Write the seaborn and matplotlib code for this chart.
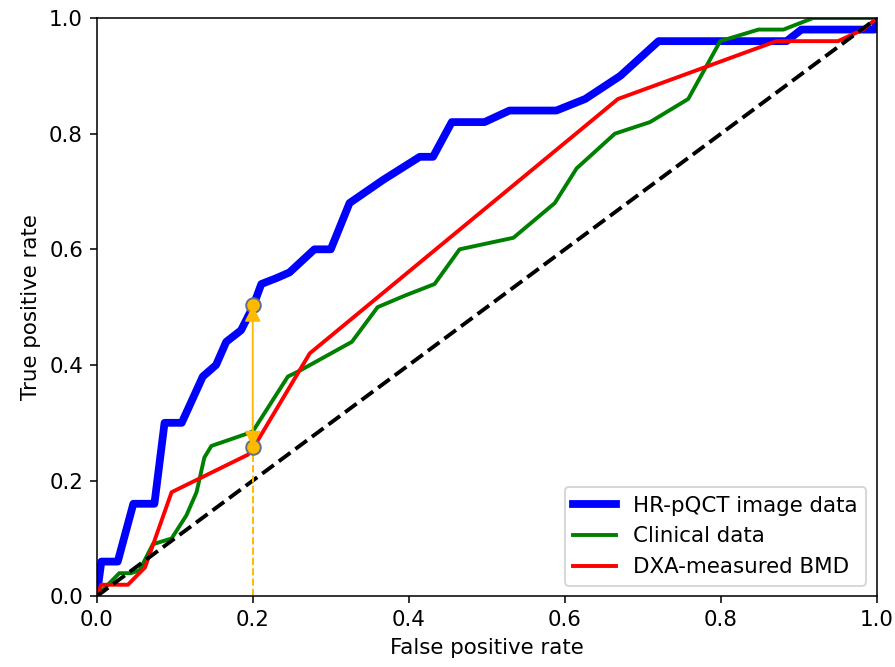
import matplotlib
matplotlib.use("Agg")
import matplotlib.pyplot as plt
import pandas as pd
import seaborn as sns

# ROC curve points
hr_fpr = [0, 0.006, 0.027, 0.047, 0.074, 0.087, 0.109, 0.136, 0.153, 0.166, 0.185, 0.20, 0.211,
          0.23, 0.247, 0.279, 0.30, 0.324, 0.367, 0.414, 0.431, 0.455, 0.497, 0.529, 0.589,
          0.626, 0.671, 0.72, 0.884, 0.903, 0.997, 1.0]
hr_tpr = [0, 0.06, 0.06, 0.16, 0.16, 0.30, 0.30, 0.38, 0.40, 0.44, 0.46, 0.50, 0.54,
          0.55, 0.56, 0.60, 0.60, 0.68, 0.72, 0.76, 0.76, 0.82, 0.82, 0.84, 0.84,
          0.86, 0.90, 0.96, 0.96, 0.98, 0.98, 1.0]

clin_fpr = [0, 0.029, 0.044, 0.055, 0.072, 0.096, 0.115, 0.128, 0.138, 0.147, 0.19, 0.20,
            0.245, 0.26, 0.327, 0.36, 0.395, 0.433, 0.465, 0.534, 0.587, 0.615, 0.664,
            0.709, 0.758, 0.799, 0.848, 0.88, 0.918, 1.0]
clin_tpr = [0, 0.04, 0.04, 0.045, 0.09, 0.10, 0.14, 0.18, 0.24, 0.26, 0.28, 0.285,
            0.38, 0.39, 0.44, 0.50, 0.52, 0.54, 0.60, 0.62, 0.68, 0.74, 0.80,
            0.82, 0.86, 0.96, 0.98, 0.98, 1.0, 1.0]

dxa_fpr = [0, 0.006, 0.04, 0.062, 0.096, 0.194, 0.20, 0.273, 0.668, 0.871, 0.95, 0.982, 1.0]
dxa_tpr = [0, 0.02, 0.02, 0.05, 0.18, 0.245, 0.255, 0.42, 0.86, 0.96, 0.96, 0.98, 1.0]

chance = [0, 1]

# operating point comparison at FPR = 0.2
op_fpr = 0.2
op_tpr_hr = 0.503
op_tpr_dxa = 0.258


def make_df(fpr, tpr, name):
    return pd.DataFrame({"fpr": fpr, "tpr": tpr, "model": name})


def main():
    plt.rcParams["font.size"] = 11
    dpi = 140
    fig, ax = plt.subplots(figsize=(895 / dpi, 667 / dpi), dpi=dpi)
    fig.subplots_adjust(left=0.108, right=0.98, top=0.973, bottom=0.106)

    sns.lineplot(data=make_df(hr_fpr, hr_tpr, "HR-pQCT image data"), x="fpr", y="tpr",
                 sort=False, estimator=None, color="blue", linewidth=4,
                 label="HR-pQCT image data", ax=ax)
    sns.lineplot(data=make_df(clin_fpr, clin_tpr, "Clinical data"), x="fpr", y="tpr",
                 sort=False, estimator=None, color="green", linewidth=2,
                 label="Clinical data", ax=ax)
    sns.lineplot(data=make_df(dxa_fpr, dxa_tpr, "DXA-measured BMD"), x="fpr", y="tpr",
                 sort=False, estimator=None, color="red", linewidth=2,
                 label="DXA-measured BMD", ax=ax)
    sns.lineplot(x=chance, y=chance, color="black", linestyle="--", linewidth=2, ax=ax)

    # annotation: vertical gap between the two curves
    gold = "#FFBA00"
    ax.plot([op_fpr, op_fpr], [0, op_tpr_dxa], color=gold, linestyle="--", linewidth=1)
    ax.annotate("", xy=(op_fpr, op_tpr_hr), xytext=(op_fpr, op_tpr_dxa),
                arrowprops=dict(arrowstyle="<|-|>", color=gold, lw=1,
                                mutation_scale=17, shrinkA=0, shrinkB=0))
    ax.plot([op_fpr, op_fpr], [op_tpr_hr, op_tpr_dxa], linestyle="none", marker="o",
            markersize=7.5, markerfacecolor=gold, markeredgecolor="#60708a", markeredgewidth=1)

    ax.set_xlim(0, 1)
    ax.set_ylim(0, 1)
    ax.set_xlabel("False positive rate")
    ax.set_ylabel("True positive rate")
    ax.legend(loc="lower right")

    fig.savefig("out.png", dpi=dpi)
    plt.close(fig)


if __name__ == "__main__":
    main()
